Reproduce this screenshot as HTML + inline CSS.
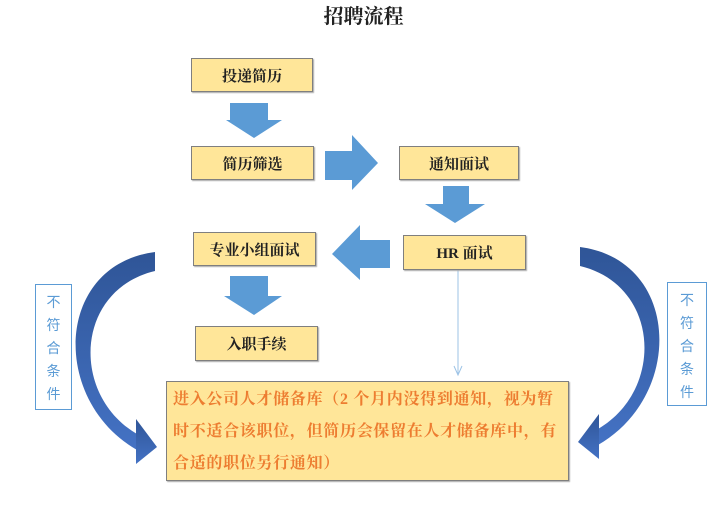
<!DOCTYPE html>
<html><head><meta charset="utf-8"><style>
body{margin:0;width:727px;height:518px;background:#fff;position:relative;overflow:hidden;font-family:"Liberation Serif","Noto Serif CJK SC","Noto Sans CJK SC",serif}
.b{position:absolute;background:#ffe699;border:1.5px solid #7f7f7f;box-sizing:border-box;display:flex;align-items:center;justify-content:center;font-weight:bold;font-size:15px;color:#222;box-shadow:1px 1px 1px #aaa}
.t{position:absolute;left:0;width:727px;top:0;text-align:center;font-size:20px;font-weight:bold;color:#222}
.lab{position:absolute;border:1.5px solid #5b9bd5;box-sizing:border-box;color:#5b9bd5;font-size:14px;text-align:center;line-height:23px;padding-top:6px;font-family:"Liberation Sans","Noto Sans CJK SC",sans-serif}
.big{position:absolute;left:166px;top:381px;width:403px;height:100px;background:#ffe699;border:1.5px solid #7f7f7f;box-sizing:border-box;color:#ed7d31;font-size:16px;letter-spacing:0.7px;font-weight:bold;line-height:32px;padding:2px 0 0 6px;white-space:nowrap;box-shadow:1px 1px 1px #aaa}
</style></head><body>
<div class="t">招聘流程</div>
<svg width="727" height="518" style="position:absolute;left:0;top:0">
<defs><linearGradient id="g" x1="0" y1="0" x2="0" y2="1"><stop offset="0" stop-color="#2f5597"/><stop offset="1" stop-color="#4472c4"/></linearGradient></defs>
<g fill="#5b9bd5">
<polygon points="230,103 268,103 268,120 282,120 254,138 226,120 230,120"/>
<polygon points="325,151 352,151 352,135 378,163 352,190 352,180 325,180"/>
<polygon points="443,186 469,186 469,204 485,204 455,223 425,204 443,204"/>
<polygon points="390,240 360,240 360,225 332,254 360,280 360,268 390,268"/>
<polygon points="230,276 268,276 268,296 282,296 254,315 224,296 230,296"/>
</g>
<line x1="458" y1="270" x2="458" y2="374" stroke="#9dc3e6" stroke-width="1"/>
<polyline points="454,366 458,375 462,366" fill="none" stroke="#9dc3e6" stroke-width="1"/>
<g fill="url(#g)">
<path d="M155,252 C55,265 50,400 137,450 L137,434 C70,395 75,290 155,271 Z"/>
<polygon points="136,419 157,447 136,464"/>
</g>
<g transform="translate(735,-5) scale(-1,1)" fill="url(#g)">
<path d="M155,252 C55,265 50,400 137,450 L137,434 C70,395 75,290 155,271 Z"/>
<polygon points="136,419 157,447 136,464"/>
</g>
</svg>
<div class="b" style="left:191px;top:58px;width:122px;height:34px">投递简历</div>
<div class="b" style="left:191px;top:146px;width:123px;height:34px">简历筛选</div>
<div class="b" style="left:399px;top:146px;width:120px;height:34px">通知面试</div>
<div class="b" style="left:193px;top:232px;width:123px;height:34px">专业小组面试</div>
<div class="b" style="left:403px;top:235px;width:123px;height:35px">HR 面试</div>
<div class="b" style="left:195px;top:326px;width:123px;height:35px">入职手续</div>
<div class="big">进入公司人才储备库（2 个月内没得到通知，视为暂<br>时不适合该职位，但简历会保留在人才储备库中，有<br>合适的职位另行通知）</div>
<div class="lab" style="left:35px;top:284px;width:37px;height:126px">不<br>符<br>合<br>条<br>件</div>
<div class="lab" style="left:667px;top:282px;width:40px;height:124px">不<br>符<br>合<br>条<br>件</div>
</body></html>
